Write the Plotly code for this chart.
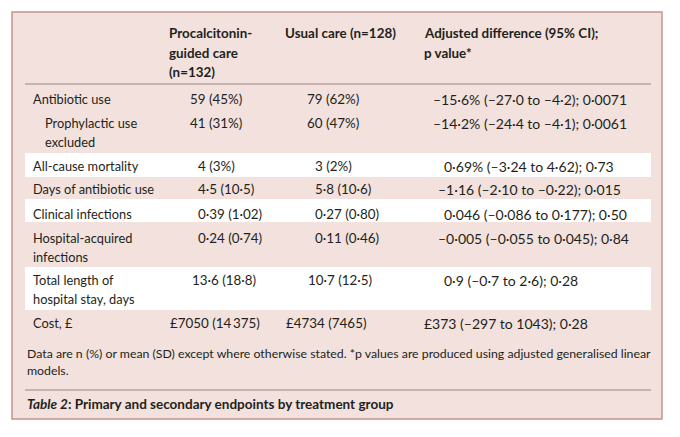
import plotly.graph_objects as go

# ---- table content ----
headers = ["Procalcitonin-<br>guided care<br>(n=132)", "Usual care (n=128)",
           "Adjusted difference (95% CI);<br>p value*"]
row_labels = ["Antibiotic use", "Prophylactic use<br>excluded", "All-cause mortality",
              "Days of antibiotic use", "Clinical infections", "Hospital-acquired<br>infections",
              "Total length of<br>hospital stay, days", "Cost, £"]
pct_guided = ["59 (45%)", "41 (31%)", "4 (3%)", "4·5 (10·5)", "0·39 (1·02)",
              "0·24 (0·74)", "13·6 (18·8)", "£7050 (14\u2009375)"]
usual_care = ["79 (62%)", "60 (47%)", "3 (2%)", "5·8 (10·6)", "0·27 (0·80)",
              "0·11 (0·46)", "10·7 (12·5)", "£4734 (7465)"]
adj_diff = ["–15·6% (–27·0 to –4·2); 0·0071", "–14·2% (–24·4 to –4·1); 0·0061",
            "0·69% (–3·24 to 4·62); 0·73", "–1·16 (–2·10 to –0·22); 0·015",
            "0·046 (–0·086 to 0·177); 0·50", "–0·005 (–0·055 to 0·045); 0·84",
            "0·9 (–0·7 to 2·6); 0·28", "£373 (–297 to 1043); 0·28"]
footnote = ("Data are n (%) or mean (SD) except where otherwise stated. *p values are produced "
            "using adjusted generalised linear<br>models.")
caption = "<b><i>Table 2</i>: Primary and secondary endpoints by treatment group</b>"

# ---- layout (page pixel coordinates; page body has an 8px margin) ----
W, H = 680, 437
OFF = 8
FONT = "Lato, Liberation Sans, Arial, sans-serif"
FS_LABEL = 12.8
FS_VAL = 13.4
FS_DIFF = 14.0
FS_HEAD = 13.4
FS_FOOT = 12.3
TXT = "#231f20"
row_y = [99, 123, 166, 189, 214, 238, 280, 323]
label_x = [31, 43, 31, 31, 31, 31, 31, 31]
c2_x = [188, 188, 196, 196, 196, 196, 190, 168]
c3_x = [305, 305, 313, 313, 313, 313, 306, 284]
c4_x = [431, 431, 442, 436, 442, 436, 442, 422]
header_x = [167, 283, 422]
white_bands = [(153, 177), (199, 222), (267, 310)]
LINE_H = 18.5

fig = go.Figure()
shapes = [
    dict(type="rect", x0=12, y0=12, x1=662, y1=419, fillcolor="#f2e1dc",
         line=dict(color="#c4928f", width=1.5), layer="below"),
]
for (a, b) in white_bands:
    shapes.append(dict(type="rect", x0=25, x1=651, y0=a, y1=b, fillcolor="white",
                       line=dict(width=0), layer="below"))
for yl in (84, 390):
    shapes.append(dict(type="line", x0=25, x1=651, y0=yl, y1=yl,
                       line=dict(color="#9c8681", width=1.2)))

ann = []


def put(text, x, y, size, bold=False, lh=LINE_H):
    for k, ln in enumerate(text.split("<br>")):
        t = f"<b>{ln}</b>" if bold else ln
        ann.append(dict(x=x, y=y + k * lh, text=t, showarrow=False, xanchor="left",
                        yanchor="middle", xref="x", yref="y",
                        font=dict(family=FONT, size=size, color=TXT)))


for hx, ht in zip(header_x, headers):
    put(ht, hx, 33, FS_HEAD, bold=True, lh=19.5)
for i in range(len(row_labels)):
    put(row_labels[i], label_x[i], row_y[i], FS_LABEL)
    put(pct_guided[i], c2_x[i], row_y[i], FS_VAL)
    put(usual_care[i], c3_x[i], row_y[i], FS_VAL)
    put(adj_diff[i], c4_x[i], row_y[i], FS_DIFF)
put(footnote, 25, 353, FS_FOOT, lh=17)
ann.append(dict(x=25, y=404, text=caption, showarrow=False, xanchor="left", yanchor="middle",
                xref="x", yref="y", font=dict(family=FONT, size=13.5, color=TXT)))

fig.update_layout(
    width=W - OFF, height=H - OFF, margin=dict(l=0, r=0, t=0, b=0),
    paper_bgcolor="white", plot_bgcolor="white",
    xaxis=dict(range=[OFF, W], visible=False, fixedrange=True),
    yaxis=dict(range=[H, OFF], visible=False, fixedrange=True),
    shapes=shapes, annotations=ann, showlegend=False,
)
fig.write_html("out.html")
